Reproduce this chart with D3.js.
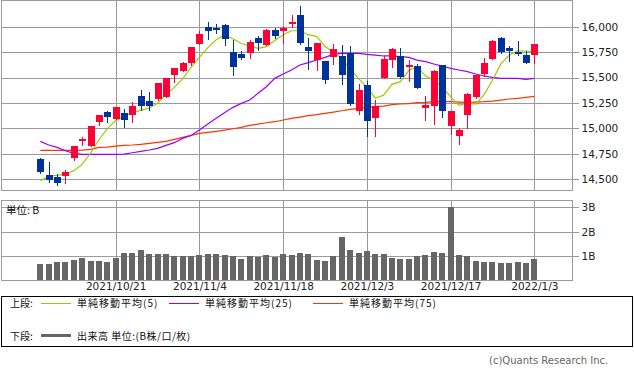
<!DOCTYPE html>
<html><head><meta charset="utf-8">
<script src="https://cdn.jsdelivr.net/npm/d3@7"></script>
<style>
body{margin:0;background:#fff;}
svg{display:block;}
text{font-family:"DejaVu Sans",sans-serif;}
.jp{font-family:"Noto Sans CJK JP","DejaVu Sans",sans-serif;}
</style></head>
<body>
<svg id="c" width="634" height="371"></svg>
<script>
const dates = ["2021/10/8","2021/10/11","2021/10/12","2021/10/13","2021/10/14","2021/10/15","2021/10/18","2021/10/19","2021/10/20","2021/10/21",
"2021/10/22","2021/10/25","2021/10/26","2021/10/27","2021/10/28","2021/10/29","2021/11/1","2021/11/2","2021/11/3","2021/11/4",
"2021/11/5","2021/11/8","2021/11/9","2021/11/10","2021/11/11","2021/11/12","2021/11/15","2021/11/16","2021/11/17","2021/11/18",
"2021/11/19","2021/11/22","2021/11/23","2021/11/24","2021/11/26","2021/11/29","2021/11/30","2021/12/1","2021/12/2","2021/12/3",
"2021/12/6","2021/12/7","2021/12/8","2021/12/9","2021/12/10","2021/12/13","2021/12/14","2021/12/15","2021/12/16","2021/12/17",
"2021/12/20","2021/12/21","2021/12/22","2021/12/23","2021/12/27","2021/12/28","2021/12/29","2021/12/30","2021/12/31","2022/1/3"];
const open  = [14699,14542,14525,14535,14712,14879,14827,15063,15161,15092,15151,15128,15318,15269,15289,15312,15528,15567,15643,15829,
15997,15990,16016,15751,15734,15741,15888,15823,15964,15961,16026,16115,15800,15672,15666,15705,15711,15738,15174,15426,
15102,15495,15672,15708,15613,15613,15204,15223,15623,15023,14928,15135,15308,15535,15685,15888,15790,15754,15718,15718];
const high  = [14705,14666,14551,14591,14827,14915,15025,15131,15171,15215,15190,15256,15381,15358,15446,15495,15594,15656,15800,15954,
16042,16023,16029,15869,15761,15869,15908,15977,15987,16010,16115,16203,15888,15842,15666,15829,15820,15810,15436,15466,
15279,15715,15793,15790,15672,15633,15315,15574,15625,15171,15007,15348,15524,15692,15872,15898,15810,15862,15764,15833];
const low   = [14561,14473,14440,14466,14689,14840,14825,15036,15063,15090,15014,15063,15181,15181,15279,15310,15459,15567,15623,15829,
15879,15934,15823,15525,15682,15695,15770,15823,15888,15836,16000,15826,15587,15577,15449,15633,15436,15230,15141,14925,
14925,15495,15603,15492,15469,15400,15086,15046,15115,14945,14846,15007,15300,15518,15679,15744,15666,15718,15639,15639];
const close = [14571,14489,14466,14568,14827,14899,15023,15131,15112,15213,15082,15220,15222,15225,15446,15495,15594,15643,15800,15928,
15957,15967,15875,15607,15695,15849,15839,15970,15911,15987,16046,15839,15764,15839,15476,15780,15525,15240,15377,15076,
15220,15682,15780,15505,15626,15400,15226,15567,15174,15171,14987,15335,15521,15643,15862,15755,15760,15735,15639,15833];
const ma5   = [14485,14531,14538,14552,14585,14649,14756,14889,14999,15077,15116,15157,15178,15201,15247,15329,15403,15486,15601,15699,
15794,15871,15919,15881,15834,15811,15786,15803,15863,15921,15960,15960,15921,15905,15805,15750,15687,15582,15490,15408,
15297,15327,15433,15460,15569,15607,15517,15473,15406,15313,15227,15248,15239,15333,15474,15634,15719,15763,15761,15754];
const ma25  = [14873,14837,14814,14781,14755,14745,14745,14745,14745,14745,14748,14761,14774,14788,14804,14833,14860,14902,14930,14984,
15043,15099,15154,15207,15246,15279,15345,15410,15492,15535,15574,15623,15646,15672,15698,15728,15738,15738,15738,15728,
15721,15712,15712,15705,15698,15672,15656,15633,15613,15590,15574,15558,15535,15515,15502,15492,15492,15492,15482,15492];
const ma75  = [14784,14784,14784,14784,14784,14786,14794,14814,14817,14827,14833,14837,14843,14853,14863,14873,14893,14912,14932,14951,
14961,14971,14984,14997,15010,15030,15043,15056,15066,15083,15099,15112,15125,15135,15148,15161,15174,15187,15197,15204,
15214,15220,15233,15240,15243,15253,15256,15263,15266,15263,15259,15256,15259,15263,15269,15279,15289,15296,15305,15315];
const volume = [0.68,0.68,0.76,0.76,0.84,0.92,0.80,0.80,0.76,0.92,1.13,1.13,1.25,1.09,1.09,1.09,1.00,1.00,1.00,1.05,
1.09,1.09,1.05,1.00,0.88,1.00,0.96,1.05,0.96,1.09,1.05,1.13,1.09,0.84,0.80,1.00,1.78,1.25,1.13,1.21,
1.09,1.09,0.92,0.88,0.88,1.00,1.05,1.17,1.13,3.00,1.05,1.00,0.80,0.76,0.76,0.72,0.72,0.76,0.72,0.88];
const priceTicks = [14500,14750,15000,15250,15500,15750,16000];
const volTicks = [1,2,3];
const dateTickIdx = [9,19,29,39,49,59];
const legendItems = [
  {label:"単純移動平均(5)", color:"#99cc00"},
  {label:"単純移動平均(25)", color:"#9900ff"},
  {label:"単純移動平均(75)", color:"#ff3300"}
];

const UP="#ff0036", DOWN="#003399", GRID="#9a9a9a";
const svg = d3.select("#c");
const L=1, R=572, PT=0.5, PB=190, VT=200, VB=280.5;
const x = d3.scaleLinear().domain([-4.7, 63.5]).range([L, R]);
const y = d3.scaleLinear().domain([14395, 16262]).range([PB, 0]);
const yv = d3.scaleLinear().domain([0, 3.3]).range([VB, VT]);
const px = v => Math.round(v)+0.5;

// grids
const g = svg.append("g").attr("shape-rendering","crispEdges");
g.selectAll(".hg").data(priceTicks).join("line")
  .attr("x1",L).attr("x2",R).attr("y1",d=>px(y(d))).attr("y2",d=>px(y(d))).attr("stroke",GRID);
g.selectAll(".vg").data(dateTickIdx).join("line")
  .attr("x1",d=>px(x(d))).attr("x2",d=>px(x(d))).attr("y1",PT).attr("y2",PB).attr("stroke",GRID);
g.selectAll(".hgv").data(volTicks).join("line")
  .attr("x1",L).attr("x2",R).attr("y1",d=>px(yv(d))).attr("y2",d=>px(yv(d))).attr("stroke",GRID);
g.selectAll(".vgv").data(dateTickIdx).join("line")
  .attr("x1",d=>px(x(d))).attr("x2",d=>px(x(d))).attr("y1",VT).attr("y2",VB).attr("stroke",GRID);

// volume bars
const idx = d3.range(dates.length);
svg.append("g").attr("shape-rendering","crispEdges").selectAll("rect").data(idx).join("rect")
  .attr("x",i=>Math.round(x(i)-3)).attr("width",6)
  .attr("y",i=>Math.round(yv(volume[i]))).attr("height",i=>Math.round(VB)-Math.round(yv(volume[i])))
  .attr("fill","#666666");

// MA lines
const lineGen = arr => d3.line().x(i=>x(i)).y(i=>y(arr[i]))(idx);
[[ma75,"#ff3300"],[ma25,"#9900ff"],[ma5,"#99cc00"]].forEach(([arr,c])=>{
  svg.append("path").attr("d",lineGen(arr)).attr("fill","none").attr("stroke",c).attr("stroke-width",1.2);
});

// candles
const cg = svg.append("g").attr("shape-rendering","crispEdges");
idx.forEach(i=>{
  const up = close[i] >= open[i];
  const col = up?UP:DOWN;
  const cx = Math.round(x(i));
  cg.append("line").attr("x1",cx+0.5).attr("x2",cx+0.5)
    .attr("y1",Math.round(y(high[i]))).attr("y2",Math.round(y(low[i]))+1).attr("stroke",col);
  const t = Math.round(y(Math.max(open[i],close[i]))), b = Math.round(y(Math.min(open[i],close[i])));
  cg.append("rect").attr("x",cx-3).attr("width",7).attr("y",t).attr("height",Math.max(2,b-t)).attr("fill",col);
});

// frames
const fr = svg.append("g").attr("shape-rendering","crispEdges").attr("fill","none").attr("stroke",GRID);
fr.append("rect").attr("x",L+0.5).attr("y",PT).attr("width",R-L).attr("height",PB-PT);
fr.append("rect").attr("x",L+0.5).attr("y",VT+0.5).attr("width",R-L).attr("height",VB-VT-0.5);

// axes
const ay = svg.append("g").attr("transform",`translate(${R+0.5},0)`)
  .call(d3.axisRight(y).tickValues(priceTicks).tickSize(6).tickPadding(3).tickFormat(d3.format(",")));
const avy = svg.append("g").attr("transform",`translate(${R+0.5},0)`)
  .call(d3.axisRight(yv).tickValues(volTicks).tickSize(6).tickPadding(3).tickFormat(d=>d+"B"));
const ax = svg.append("g").attr("transform",`translate(0,${VB})`)
  .call(d3.axisBottom(x).tickValues(dateTickIdx).tickSize(0).tickPadding(2).tickFormat(i=>dates[i]));
[ay,avy,ax].forEach(a=>{
  a.select(".domain").remove();
  a.selectAll("line").attr("stroke",GRID).attr("shape-rendering","crispEdges");
  a.selectAll("text").attr("font-family","DejaVu Sans").attr("font-size","10.5px").attr("fill","#222");
});
ay.selectAll("line").attr("y1",0).attr("y2",0);

svg.append("text").attr("class","jp").attr("x",6).attr("y",214).attr("font-size","10.5px").attr("fill","#111").text("単位: B");

// legend
svg.append("rect").attr("x",1.5).attr("y",296.5).attr("width",631).attr("height",50).attr("fill","none").attr("stroke","#000").attr("shape-rendering","crispEdges");
svg.append("text").attr("class","jp").attr("x",10).attr("y",307).attr("font-size","10px").attr("fill","#111").text("上段:");
const lx = [41,169,313];
legendItems.forEach((d,k)=>{
  svg.append("line").attr("x1",lx[k]).attr("x2",lx[k]+30).attr("y1",303.5).attr("y2",303.5).attr("stroke",d.color).attr("shape-rendering","crispEdges");
  svg.append("text").attr("class","jp").attr("x",lx[k]+36).attr("y",307).attr("font-size","10px")
    .attr("letter-spacing","1px").attr("fill","#111").text(d.label);
});
svg.append("text").attr("class","jp").attr("x",10).attr("y",339.5).attr("font-size","10px").attr("fill","#111").text("下段:");
svg.append("rect").attr("x",41).attr("y",334).attr("width",30).attr("height",3).attr("fill","#666");
svg.append("text").attr("class","jp").attr("x",77).attr("y",339.5).attr("font-size","10px")
  .attr("letter-spacing","0.5px").attr("fill","#111").text("出来高 単位:(B株/口/枚)");

svg.append("text").attr("x",489).attr("y",364).attr("font-size","10px").attr("fill","#666").attr("font-family","DejaVu Sans").text("(c)Quants Research Inc.");
</script>
</body></html>
